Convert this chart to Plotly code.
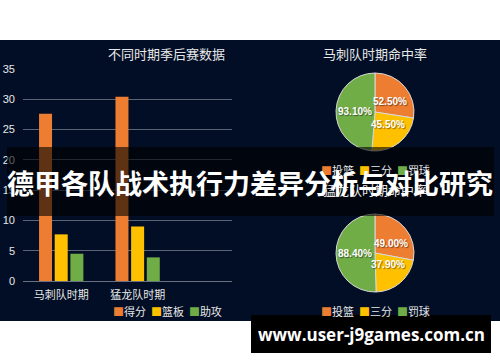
import numpy as np
import plotly.graph_objects as go

# ---------------- data ----------------
periods = ["马刺队时期", "猛龙队时期"]
bar_series = ["得分", "篮板", "助攻"]
bar_values = {
    "得分": [27.6, 30.4],
    "篮板": [7.7, 9.0],
    "助攻": [4.5, 3.9],
}
bar_title = "不同时期季后赛数据"

pie_labels = ["投篮", "三分", "罚球"]
spurs_rates = [52.5, 45.5, 93.1]
raptors_rates = [49.0, 37.9, 88.4]
pie_titles = ["马刺队时期命中率", "猛龙队时期命中率"]

banner_text = "德甲各队战术执行力差异分析与对比研究"
watermark_text = "www.user-j9games.com.cn"

yticks = [0, 5, 10, 15, 20, 25, 30, 35]

# ---------------- style ----------------
W, H = 500, 362
COLORS = ["#ED7D31", "#FFC000", "#70AD47"]
NAVY = "#020e25"
TXT = "#e8e8e8"
FONT = "Noto Sans CJK SC"


def fx(p):
    return p / W


def fy(p):
    return 1 - p / H


fig = go.Figure()

for name, col in zip(bar_series, COLORS):
    fig.add_trace(go.Bar(
        x=periods, y=bar_values[name], name=name,
        marker=dict(color=col, line=dict(width=0)),
        showlegend=False, xaxis="x", yaxis="y",
    ))

# pie geometry (pixels): centre x, centre y, radius
pie_geom = [(375, 112, 39), (375, 253, 39)]

annotations = []
for vals, (cx, cy, r) in zip([spurs_rates, raptors_rates], pie_geom):
    fig.add_trace(go.Pie(
        labels=pie_labels, values=vals,
        textinfo="none",
        marker=dict(colors=COLORS, line=dict(color="#d8d8d8", width=1)),
        sort=False, direction="clockwise", rotation=0,
        domain=dict(x=[fx(cx - r), fx(cx + r)], y=[fy(cy + r), fy(cy - r)]),
        showlegend=False, hoverinfo="skip",
    ))
    # slice labels at mid-angle of each slice (clockwise from 12 o'clock)
    v = np.asarray(vals, dtype=float)
    cum = np.cumsum(v) - v / 2
    theta = np.deg2rad(cum / v.sum() * 360)
    for val, th in zip(v, theta):
        lx = cx + 0.52 * r * np.sin(th)
        ly = cy - 0.40 * r * np.cos(th)
        annotations.append(dict(
            text=f"<b>{val:.2f}%</b>", x=fx(lx), y=fy(ly), xref="paper", yref="paper",
            xanchor="center", yanchor="middle", showarrow=False,
            font=dict(size=10, color="white", family="Liberation Sans",
                      shadow="1px 1px 1px rgba(0,0,0,0.45)"),
        ))

shapes = [
    # dark panel
    dict(type="rect", xref="paper", yref="paper", x0=0, x1=1,
         y0=fy(321), y1=fy(40), fillcolor=NAVY, line=dict(width=0), layer="below"),
    # banner
    dict(type="rect", xref="paper", yref="paper", x0=fx(7), x1=fx(494),
         y0=fy(216), y1=fy(147), fillcolor="rgba(0,0,0,0.6)", line=dict(width=0), layer="above"),
    # watermark box
    dict(type="rect", xref="paper", yref="paper", x0=fx(251), x1=fx(491),
         y0=fy(353), y1=fy(315), fillcolor="black", line=dict(width=0), layer="above"),
]


def legend_text(names):
    return "  ".join(
        f"<span style='color:{c}'>■</span>{n}" for n, c in zip(names, COLORS)
    )


def ann(text, x, y, size, color=TXT, family=FONT):
    return dict(text=text, x=fx(x), y=fy(y), xref="paper", yref="paper",
                xanchor="center", yanchor="middle", showarrow=False,
                font=dict(size=size, color=color, family=family))


annotations += [
    ann(bar_title, 166, 53, 13),
    ann(legend_text(bar_series), 167, 311, 11),
    ann(pie_titles[0], 375, 53, 13),
    ann(legend_text(pie_labels), 375, 170, 11),
    ann(pie_titles[1], 375, 189, 13),
    ann(legend_text(pie_labels), 375, 311, 11),
    ann(f"<b>{banner_text}</b>", 250, 182, 27, "white"),
    ann(f"<b>{watermark_text}</b>", 371, 334, 17, "white", "Open Sans"),
]

fig.update_layout(
    width=W, height=H,
    margin=dict(l=0, r=0, t=0, b=0),
    paper_bgcolor="white", plot_bgcolor="rgba(0,0,0,0)",
    barmode="group", bargap=0.385, bargroupgap=0.17,
    xaxis=dict(domain=[fx(23), fx(232)], range=[-0.5, 2.235], type="category",
               showgrid=False, showline=True, linecolor="#6a7282", linewidth=1,
               ticks="", ticklabelstandoff=4,
               tickfont=dict(size=11, color=TXT, family=FONT),
               automargin=False, fixedrange=True),
    yaxis=dict(domain=[fy(281), fy(69)], range=[0, 35], tickvals=yticks,
               showgrid=True, gridcolor="#5a6474", gridwidth=1, zeroline=False,
               showline=False, ticks="", ticklabelstandoff=7,
               tickfont=dict(size=11, color=TXT, family="Liberation Sans"),
               automargin=False, fixedrange=True),
    shapes=shapes, annotations=annotations,
    showlegend=False,
)

fig.write_html("out.html")
